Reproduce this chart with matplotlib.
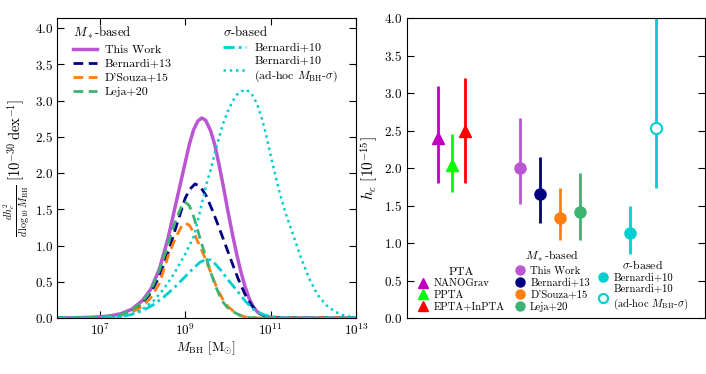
import numpy as np
import matplotlib
matplotlib.use("Agg")
import matplotlib.pyplot as plt
from matplotlib.lines import Line2D

plt.rcParams['font.family'] = 'serif'
plt.rcParams['font.serif'] = ['cmr10', 'DejaVu Serif']
plt.rcParams['mathtext.fontset'] = 'cm'
plt.rcParams['axes.unicode_minus'] = False
plt.rcParams['axes.formatter.use_mathtext'] = True

# ---- left panel: dh_c^2 / dlog10 M_BH (log10 M, value)
logm_this = [6.0, 6.5, 7.0, 7.25, 7.5, 7.75, 8.0, 8.2, 8.4, 8.6, 8.8, 9.0, 9.1, 9.2, 9.3, 9.39, 9.48, 9.6, 9.7, 9.8,
             9.9, 10.0, 10.1, 10.2, 10.3, 10.4, 10.5, 10.6, 10.7, 10.85, 11.0, 11.3, 13.0]
dh_this = [0.0, 0.005, 0.015, 0.03, 0.06, 0.12, 0.24, 0.4, 0.68, 1.1, 1.62, 2.14, 2.4, 2.6, 2.72, 2.76, 2.73, 2.58, 2.38, 2.1,
           1.8, 1.48, 1.18, 0.9, 0.65, 0.44, 0.27, 0.15, 0.08, 0.03, 0.01, 0.0, 0.0]

logm_b13 = [6.0, 7.0, 7.5, 7.75, 8.0, 8.2, 8.4, 8.6, 8.8, 9.0, 9.1, 9.23, 9.35, 9.5, 9.65, 9.8, 9.95, 10.1, 10.25,
            10.4, 10.55, 10.7, 10.85, 11.0, 11.3, 13.0]
dh_b13 = [0.0, 0.01, 0.04, 0.09, 0.2, 0.35, 0.58, 0.9, 1.28, 1.65, 1.77, 1.85, 1.82, 1.68, 1.47, 1.24, 1.0, 0.76, 0.53,
          0.33, 0.18, 0.08, 0.03, 0.01, 0.0, 0.0]

logm_ds15 = [6.0, 7.0, 7.5, 7.75, 8.0, 8.2, 8.4, 8.6, 8.75, 8.9, 9.0, 9.1, 9.2, 9.3, 9.4, 9.5, 9.6, 9.7, 9.8, 9.9,
             10.0, 10.2, 10.4, 10.7, 13.0]
dh_ds15 = [0.0, 0.01, 0.04, 0.08, 0.16, 0.28, 0.48, 0.85, 1.07, 1.25, 1.31, 1.28, 1.18, 1.05, 0.92, 0.78, 0.63, 0.48, 0.35, 0.24,
           0.16, 0.06, 0.015, 0.0, 0.0]

logm_l20 = [6.0, 7.0, 7.5, 7.75, 8.0, 8.2, 8.4, 8.6, 8.75, 8.9, 9.0, 9.1, 9.2, 9.3, 9.4, 9.5, 9.6, 9.7, 9.8, 9.9,
            10.0, 10.15, 10.3, 10.5, 10.7, 13.0]
dh_l20 = [0.0, 0.01, 0.05, 0.11, 0.22, 0.38, 0.66, 1.02, 1.3, 1.52, 1.6, 1.55, 1.4, 1.2, 1.0, 0.82, 0.63, 0.46, 0.32, 0.21,
          0.14, 0.08, 0.03, 0.005, 0.0, 0.0]

logm_b10 = [6.0, 7.0, 7.25, 7.5, 7.75, 8.0, 8.25, 8.5, 8.75, 9.0, 9.2, 9.35, 9.5, 9.6, 9.7, 9.85, 10.0, 10.2, 10.4,
            10.6, 10.8, 11.0, 11.3, 13.0]
dh_b10 = [0.0, 0.0, 0.01, 0.02, 0.05, 0.1, 0.18, 0.29, 0.42, 0.57, 0.69, 0.77, 0.81, 0.8, 0.75, 0.65, 0.53, 0.39, 0.24,
          0.12, 0.05, 0.02, 0.0, 0.0]

logm_adhoc = [6.0, 7.0, 7.5, 7.75, 8.0, 8.25, 8.5, 8.75, 9.0, 9.2, 9.3, 9.4, 9.5, 9.6, 9.75, 9.9, 10.0, 10.1, 10.21,
              10.32, 10.44, 10.57, 10.68, 10.8, 10.9, 11.05, 11.2, 11.35, 11.5, 11.7, 11.9, 12.1, 12.3, 12.5, 12.7,
              12.9, 13.0]
dh_adhoc = [0.0, 0.0, 0.02, 0.05, 0.12, 0.23, 0.4, 0.62, 0.88, 1.12, 1.35, 1.6, 1.85, 2.05, 2.4, 2.7, 2.85, 2.98, 3.08,
            3.13, 3.15, 3.08, 2.96, 2.75, 2.52, 2.12, 1.76, 1.45, 1.2, 0.85, 0.55, 0.32, 0.18, 0.09, 0.04, 0.015, 0.01]

# ---- right panel: h_c amplitudes [1e-15] with (lower, upper) bounds
pta_names = ['NANOGrav', 'PPTA', 'EPTA+InPTA']
pta_hc = [2.4, 2.04, 2.5]
pta_lo = [1.8, 1.68, 1.8]
pta_hi = [3.1, 2.45, 3.2]
pta_x = [0.104, 0.151, 0.195]
pta_col = ['m', '#00ff00', 'red']

mstar_names = ['This Work', 'Bernardi+13', "D'Souza+15", 'Leja+20']
mstar_hc = [2.0, 1.65, 1.34, 1.42]
mstar_lo = [1.52, 1.27, 1.04, 1.04]
mstar_hi = [2.67, 2.15, 1.73, 1.93]
mstar_x = [0.379, 0.446, 0.513, 0.58]
mstar_col = ['mediumorchid', 'navy', '#ff7f0e', 'mediumseagreen']

sig_names = ['Bernardi+10', 'Bernardi+10\n(ad-hoc $M_{\\rm BH}$-$\\sigma$)']
sig_hc = [1.13, 2.53]
sig_lo = [0.86, 1.73]
sig_hi = [1.5, 4.2]
sig_x = [0.748, 0.836]
cyan = 'darkturquoise'

fig = plt.figure(figsize=(7.06, 3.74), dpi=100)
ax1 = fig.add_axes([0.0807, 0.1497, 0.4235, 0.8021])
ax2 = fig.add_axes([0.5765, 0.1497, 0.4221, 0.8021])

# left panel
dash = (0, (3.5, 2))
l1, = ax1.plot(10**np.array(logm_this), dh_this, color='mediumorchid', lw=2.5)
l2, = ax1.plot(10**np.array(logm_b13), dh_b13, color='navy', lw=2, ls=dash)
l3, = ax1.plot(10**np.array(logm_ds15), dh_ds15, color='#ff7f0e', lw=2, ls=dash)
l4, = ax1.plot(10**np.array(logm_l20), dh_l20, color='mediumseagreen', lw=2, ls=dash)
l5, = ax1.plot(10**np.array(logm_b10), dh_b10, color=cyan, lw=2, ls=(0, (4, 1.5, 1, 1.5)))
l6, = ax1.plot(10**np.array(logm_adhoc), dh_adhoc, color=cyan, lw=1.8, ls=(0, (1, 1.5)))

ax1.set_xscale('log')
ax1.set_xlim(1e6, 1e13)
ax1.set_ylim(0, 4.14)
ax1.set_xticks([1e7, 1e9, 1e11, 1e13])
ax1.xaxis.set_minor_locator(matplotlib.ticker.NullLocator())
ax1.set_yticks(np.arange(0, 4.01, 0.5))
ax1.tick_params(direction='in', top=True, right=True, labelsize=9.5, length=5, pad=3)
ax1.set_xlabel(r'$M_{\rm BH}$ [M$_{\odot}$]', fontsize=9.5, labelpad=1)
ax1.set_ylabel(r'$\frac{dh_c^2}{d\,\log_{10}M_{\rm BH}}\ [10^{-30}\,{\rm dex}^{-1}]$', fontsize=10.5, labelpad=2)

lkw = dict(frameon=False, fontsize=8.6, title_fontsize=9.3, handlelength=2.0, handletextpad=0.65,
           borderaxespad=0.2, labelspacing=0.3, loc='upper left')
leg1 = ax1.legend([l1, l2, l3, l4], mstar_names, title=r'$M_*$-based', bbox_to_anchor=(0.03, 1.0), **lkw)
leg1._legend_box.align = 'left'
ax1.add_artist(leg1)
leg2 = ax1.legend([l5, l6], sig_names, title=r'$\sigma$-based', bbox_to_anchor=(0.53, 1.0), **lkw)
leg2._legend_box.align = 'left'

# right panel
for x, h, lo, hi, c in zip(pta_x, pta_hc, pta_lo, pta_hi, pta_col):
    ax2.errorbar(x, h, yerr=[[h - lo], [hi - h]], fmt='^', color=c, ms=8, elinewidth=2, capsize=0)
for x, h, lo, hi, c in zip(mstar_x, mstar_hc, mstar_lo, mstar_hi, mstar_col):
    ax2.errorbar(x, h, yerr=[[h - lo], [hi - h]], fmt='o', color=c, ms=8, elinewidth=2, capsize=0)
ax2.errorbar(sig_x[0], sig_hc[0], yerr=[[sig_hc[0] - sig_lo[0]], [sig_hi[0] - sig_hc[0]]],
             fmt='o', color=cyan, ms=8, elinewidth=2, capsize=0)
ax2.errorbar(sig_x[1], sig_hc[1], yerr=[[sig_hc[1] - sig_lo[1]], [sig_hi[1] - sig_hc[1]]],
             fmt='o', color=cyan, mfc='white', mec=cyan, mew=1.5, ms=8, elinewidth=2, capsize=0)

ax2.set_xlim(0, 1)
ax2.set_ylim(0, 4.0)
ax2.set_xticks([])
ax2.set_yticks(np.arange(0, 4.01, 0.5))
ax2.tick_params(direction='in', right=True, labelsize=9.5, length=5)
ax2.set_ylabel(r'$h_c\ [10^{-15}]$', fontsize=11, labelpad=3)

hpta = [Line2D([], [], marker='^', ls='none', color=c, ms=6.5) for c in pta_col]
hms = [Line2D([], [], marker='o', ls='none', color=c, ms=6.5) for c in mstar_col]
hsig = [Line2D([], [], marker='o', ls='none', color=cyan, ms=6.5),
        Line2D([], [], marker='o', ls='none', mfc='white', mec=cyan, mew=1.5, ms=6.5)]
kw = dict(frameon=False, fontsize=7.7, title_fontsize=8.5, handletextpad=0.35, handlelength=1.2,
          labelspacing=0.2, loc='lower left', borderaxespad=0.2)
lg_a = ax2.legend(hpta, pta_names, title='PTA', bbox_to_anchor=(0.012, 0.0), **kw)
ax2.add_artist(lg_a)
lg_b = ax2.legend(hms, mstar_names, title=r'$M_*$-based', bbox_to_anchor=(0.336, 0.0), **kw)
ax2.add_artist(lg_b)
ax2.legend(hsig, sig_names, title=r'$\sigma$-based', bbox_to_anchor=(0.615, 0.0), **kw)

fig.savefig('out.png', dpi=100)
